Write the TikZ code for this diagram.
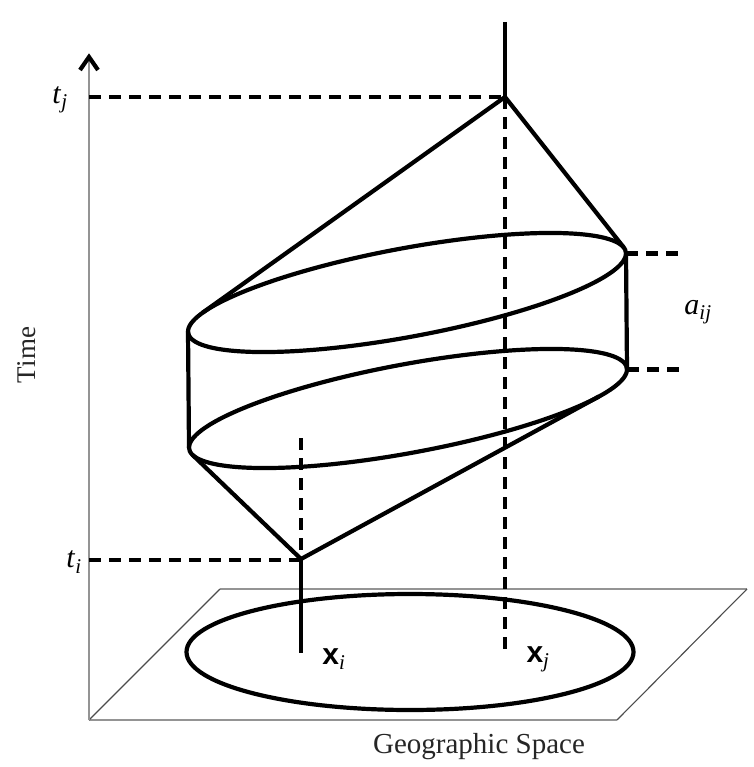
\documentclass[tikz,border=0pt]{standalone}
\usepackage{fontspec}
\setmainfont{Liberation Serif}
\setsansfont{Liberation Sans}
\begin{document}
\begin{tikzpicture}[x=1pt,y=-1pt,
  thickline/.style={line width=4.2pt, line join=round},
  dashline/.style={line width=4.6pt, dash pattern=on 12pt off 8pt},
  axisline/.style={line width=2.6pt, color=black!42},
  planeedge/.style={line width=2.2pt, color=black!42},
  planeslant/.style={line width=1.1pt, color=black!70},
  lbl/.style={inner sep=0pt, font=\fontsize{30}{32}\selectfont},
  txt/.style={inner sep=0pt, text=black!85}
]
\useasboundingbox (0,0) rectangle (753,767);
\fill[white] (0,0) rectangle (753,767);
% key points
\coordinate (O) at (89,720);
\coordinate (axtop) at (89,58);
\coordinate (arL) at (80,70);
\coordinate (arT) at (89,57);
\coordinate (arR) at (98,70);
\coordinate (pTL) at (220,589);
\coordinate (pTR) at (747,589);
\coordinate (pBR) at (617,720);
\coordinate (A) at (505,97);
\coordinate (Atop) at (505,22);
\coordinate (B) at (301,559);
\coordinate (Bbot) at (301,653);
\coordinate (xjend) at (505,653);
\coordinate (xitop) at (301,438);
% cylinder extremes
\coordinate (UL) at (188,331.5);
\coordinate (UR) at (626,253.5);
\coordinate (LL) at (189,447.5);
\coordinate (LR) at (627,369.5);
% cone tangent points
\coordinate (TUL) at (202.6,312.7);
\coordinate (TUR) at (623.8,247.5);
\coordinate (TLL) at (192.5,454.9);
\coordinate (TLR) at (598.9,396.5);
\coordinate (tjL) at (89,97);
\coordinate (tiL) at (89,560);
\coordinate (tiR) at (301,560);
\coordinate (aU) at (680,253.5);
\coordinate (aL) at (680,369.5);
\coordinate (G) at (410,652);
% plane
\draw[planeedge] (O) -- (pBR);
\draw[planeedge] (pTL) -- (pTR);
\draw[planeslant] (O) -- (pTL);
\draw[planeslant] (pBR) -- (pTR);
% time axis
\draw[axisline] (O) -- (axtop);
\draw[line width=4.2pt, line join=miter] (arL) -- (arT) -- (arR);
% ground ellipse
\draw[thickline] (G) ellipse [x radius=223.5pt, y radius=58pt];
% dashed guides
\draw[dashline] (tjL) -- (A);
\draw[dashline] (tiL) -- (tiR);
\draw[dashline] (A) -- (xjend);
\draw[dashline] (xitop) -- (B);
\draw[dashline] (UR) -- (aU);
\draw[dashline] (LR) -- (aL);
% solid verticals
\draw[thickline] (Atop) -- (A);
\draw[thickline] (B) -- (Bbot);
% ellipses of the cylinder
\draw[thickline] plot[smooth cycle, domain=0:355, samples=72]
  ({407+219*cos(\x)}, {292.5-39*cos(\x)-45*sin(\x)});
\draw[thickline] plot[smooth cycle, domain=0:355, samples=72]
  ({408+219*cos(\x)}, {408.5-39*cos(\x)-45*sin(\x)});
\draw[thickline] (UL) -- (LL);
\draw[thickline] (UR) -- (LR);
% cones
\draw[thickline] (TUL) -- (A) -- (TUR);
\draw[thickline] (TLL) -- (B) -- (TLR);
% labels
\node[lbl] (tj) at (60,100) {\textit{t}\textsubscript{\textit{j}}};
\node[lbl] (ti) at (74,562) {\textit{t}\textsubscript{\textit{i}}};
\node[lbl] (aij) at (698,312) {\textit{a}\textsubscript{\textit{ij}}};
\node[txt, font=\fontsize{27}{29}\selectfont, rotate=90] (time) at (27,355) {Time};
\node[txt, font=\fontsize{29}{31}\selectfont] (geo) at (479,747) {Geographic Space};
\node[lbl] (xi) at (334,659) {\sffamily\bfseries x\textsubscript{\normalfont\itshape i}};
\node[lbl] (xj) at (538,659) {\sffamily\bfseries x\textsubscript{\normalfont\itshape j}};
\end{tikzpicture}
\end{document}
